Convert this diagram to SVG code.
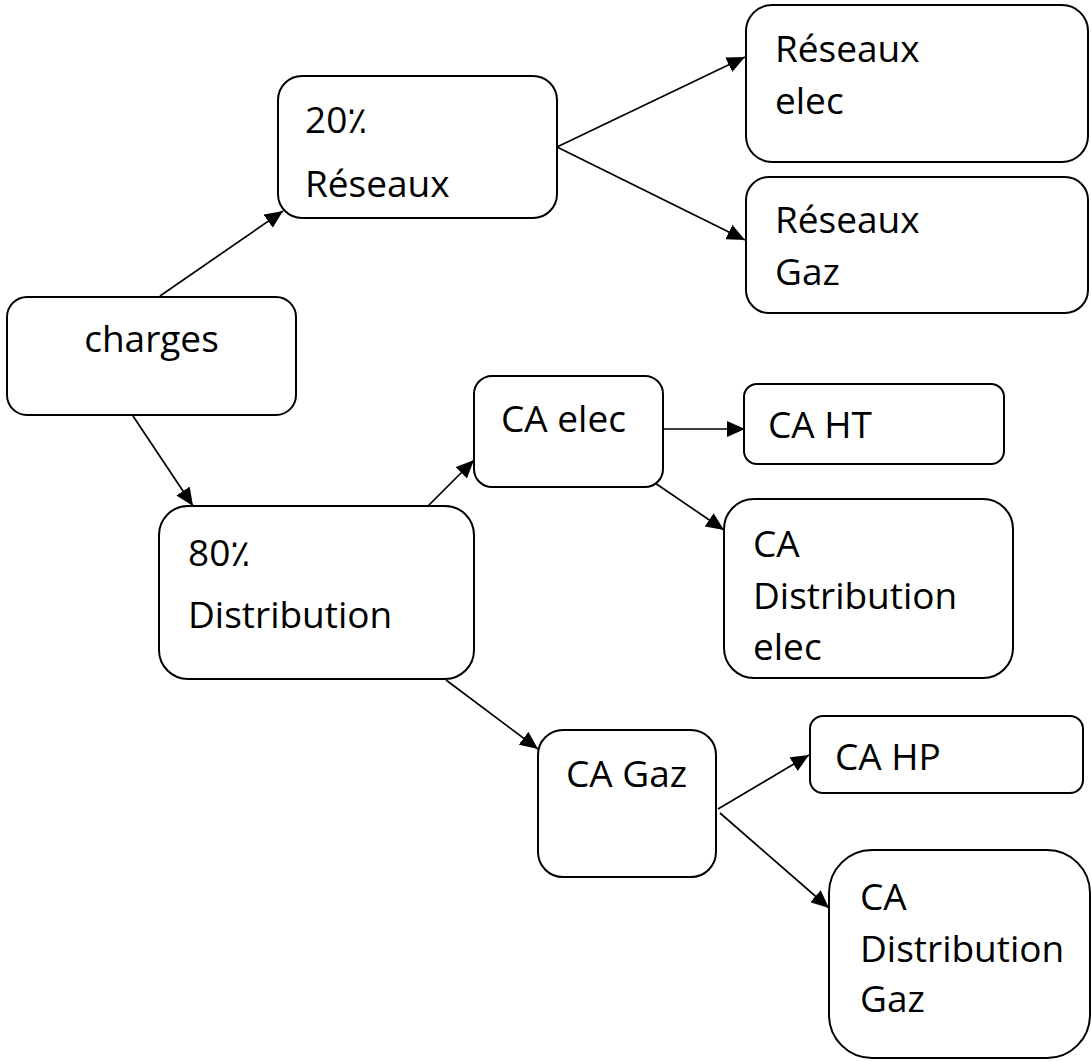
<svg xmlns="http://www.w3.org/2000/svg" width="1091" height="1061" viewBox="0 0 1091 1061">
  <style>
    .box { fill: #ffffff; stroke: #000000; stroke-width: 2; }
    .lbl { font-family: "Open Sans", "DejaVu Sans", sans-serif; font-size: 37px; fill: #000000; }
    .edge { fill: none; stroke: #000000; stroke-width: 1.7; marker-end: url(#arrow); }
  </style>
  <defs>
    <marker id="arrow" markerUnits="userSpaceOnUse" markerWidth="18" markerHeight="16" viewBox="0 0 18 16" refX="18" refY="8" orient="auto">
      <path d="M0,0 L18,8 L0,16 z" fill="#000000"/>
    </marker>
  </defs>
  <rect width="1091" height="1061" fill="#ffffff"/>

  <!-- connectors -->
  <g id="connectors">
    <line class="edge" x1="160" y1="296" x2="283" y2="211"/>
    <line class="edge" x1="133" y1="416" x2="193" y2="506"/>
    <line class="edge" x1="557" y1="147" x2="745" y2="57"/>
    <line class="edge" x1="557" y1="147" x2="745" y2="240"/>
    <line class="edge" x1="428" y1="506" x2="474" y2="460"/>
    <line class="edge" x1="663" y1="429" x2="745" y2="429"/>
    <line class="edge" x1="655" y1="483" x2="724" y2="530"/>
    <line class="edge" x1="446" y1="680" x2="538" y2="749"/>
    <line class="edge" x1="718" y1="809" x2="809" y2="755"/>
    <line class="edge" x1="720" y1="813" x2="829" y2="908"/>
  </g>

  <g id="charges">
    <rect class="box" x="7" y="297" width="289" height="118" rx="20"/>
    <text class="lbl" x="151.5" y="352" text-anchor="middle">charges</text>
  </g>

  <g id="reseaux">
    <rect class="box" x="278" y="76" width="279" height="142" rx="24"/>
    <text class="lbl" x="305" y="133">20٪</text>
    <text class="lbl" x="305" y="197">Réseaux</text>
  </g>

  <g id="reseaux-elec">
    <rect class="box" x="746" y="5" width="342" height="157" rx="26"/>
    <text class="lbl" x="775" y="62">Réseaux</text>
    <text class="lbl" x="775" y="114">elec</text>
  </g>

  <g id="reseaux-gaz">
    <rect class="box" x="746" y="177" width="342" height="136" rx="23"/>
    <text class="lbl" x="775" y="233">Réseaux</text>
    <text class="lbl" x="775" y="285">Gaz</text>
  </g>

  <g id="distribution">
    <rect class="box" x="159" y="506" width="315" height="173" rx="29"/>
    <text class="lbl" x="188" y="566">80٪</text>
    <text class="lbl" x="188" y="628">Distribution</text>
  </g>

  <g id="ca-elec">
    <rect class="box" x="474" y="376" width="189" height="111" rx="18"/>
    <text class="lbl" x="501" y="432">CA elec</text>
  </g>

  <g id="ca-ht">
    <rect class="box" x="744" y="384" width="260" height="80" rx="13"/>
    <text class="lbl" x="768" y="438">CA HT</text>
  </g>

  <g id="ca-distribution-elec">
    <rect class="box" x="724" y="499" width="289" height="179" rx="30"/>
    <text class="lbl" x="753" y="557">CA</text>
    <text class="lbl" x="753" y="609">Distribution</text>
    <text class="lbl" x="753" y="660">elec</text>
  </g>

  <g id="ca-gaz">
    <rect class="box" x="538" y="730" width="178" height="147" rx="25"/>
    <text class="lbl" x="566" y="787">CA Gaz</text>
  </g>

  <g id="ca-hp">
    <rect class="box" x="810" y="716" width="273" height="77" rx="13"/>
    <text class="lbl" x="835" y="770">CA HP</text>
  </g>

  <g id="ca-distribution-gaz">
    <rect class="box" x="829" y="850" width="261" height="208" rx="43"/>
    <text class="lbl" x="860" y="910">CA</text>
    <text class="lbl" x="860" y="962">Distribution</text>
    <text class="lbl" x="860" y="1012">Gaz</text>
  </g>
</svg>
